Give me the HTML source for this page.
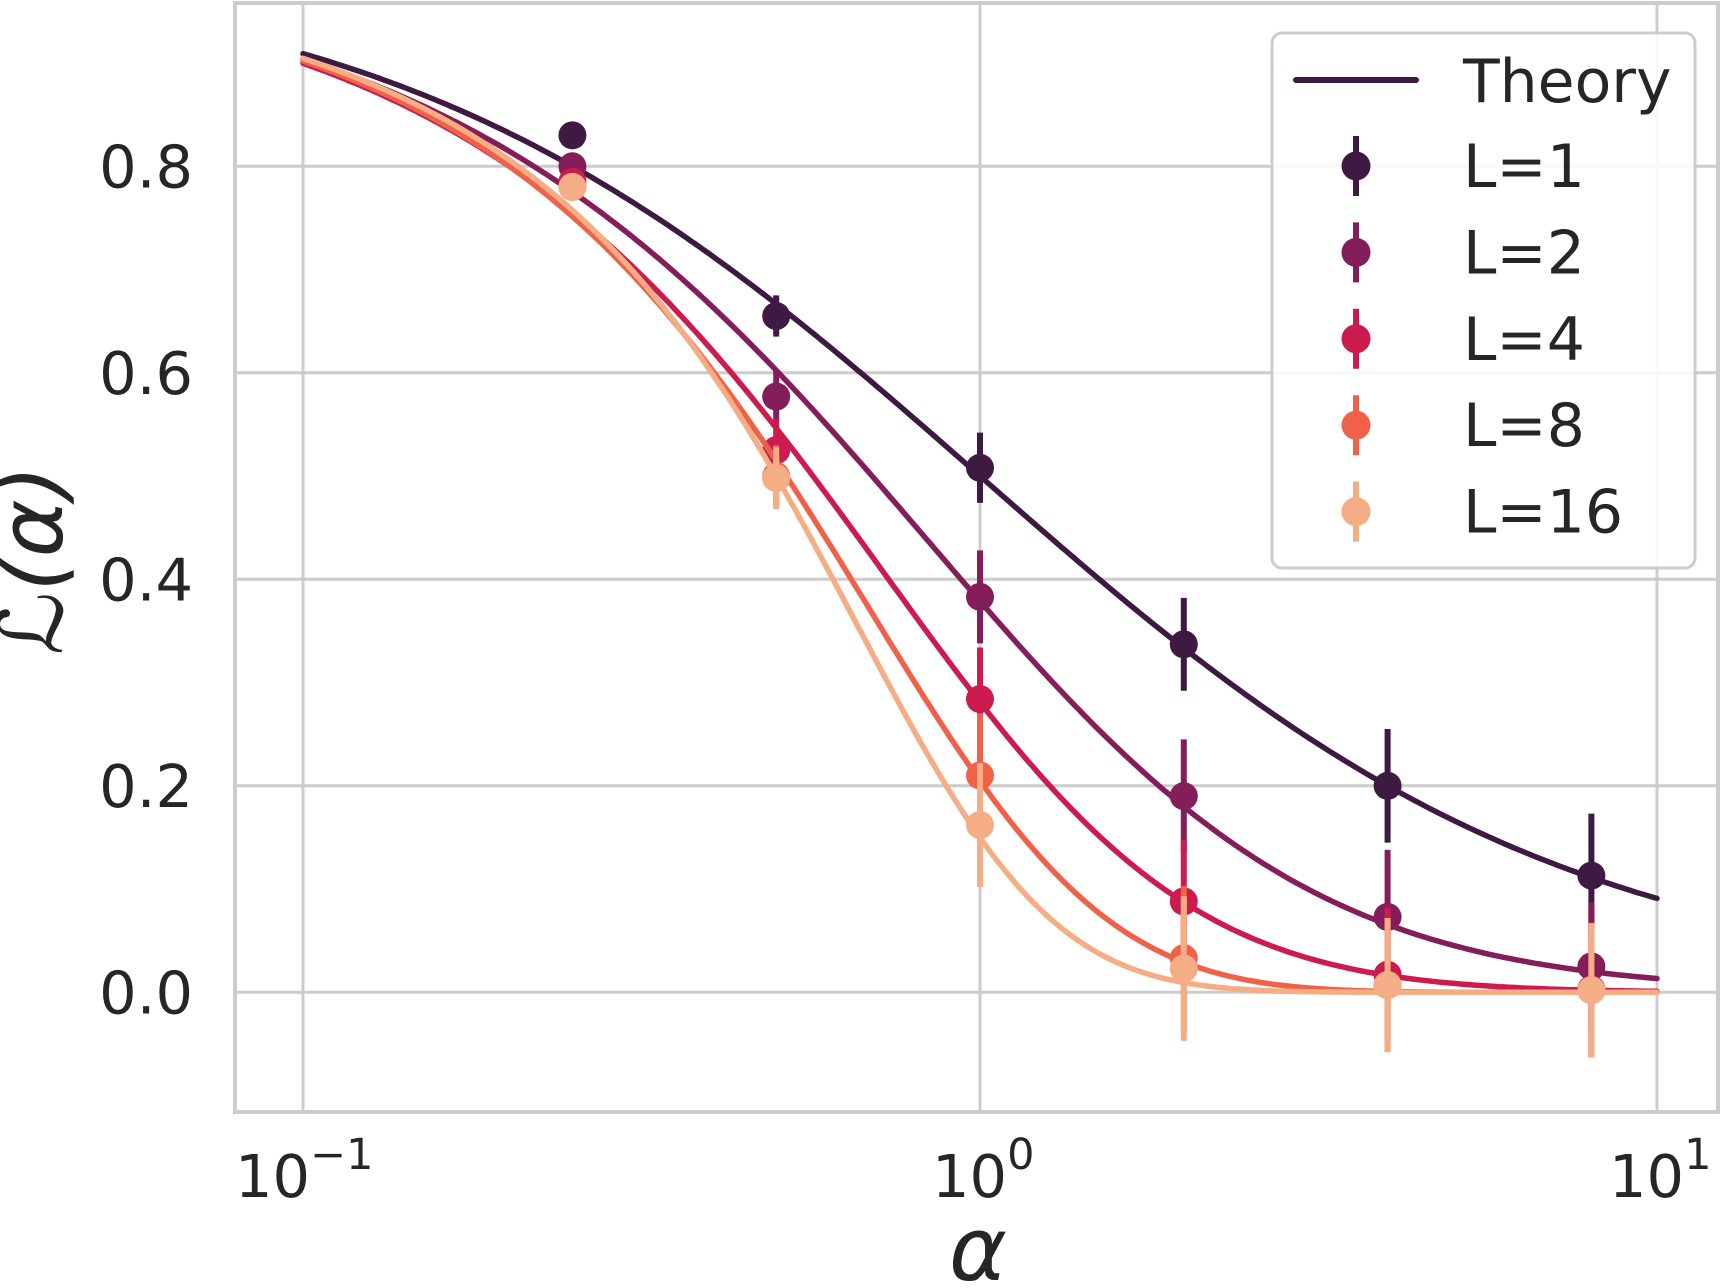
<!DOCTYPE html>
<html><head><meta charset="utf-8"><style>
html,body{margin:0;padding:0;background:#fff;}
svg{display:block;font-family:"DejaVu Sans","Liberation Sans",sans-serif;}
</style></head><body>
<svg id="s" width="1726" height="1288" viewBox="0 0 1726 1288" xmlns="http://www.w3.org/2000/svg">
<rect width="1726" height="1288" fill="#fff"/>
<g id="grid" stroke="#cccccc" stroke-width="3"></g>
<rect x="235" y="3" width="1483" height="1109" fill="none" stroke="#cccccc" stroke-width="4"/>
<g id="plot"></g>
<g id="labels" fill="#262626" font-size="59"></g>
<text x="978" y="1280" font-size="88" font-style="italic" text-anchor="middle" fill="#262626">α</text>
<text transform="translate(62,560) rotate(-90)" font-size="88" font-style="italic" text-anchor="middle" fill="#262626">ℒ(α)</text>
<g id="legend"></g>
</svg>
<script>
var NS="http://www.w3.org/2000/svg";
function el(p,t,a,txt){var e=document.createElementNS(NS,t);for(var k in a)e.setAttribute(k,a[k]);if(txt!==undefined)e.textContent=txt;p.appendChild(e);return e;}
function X(a){return 980+677*Math.log10(a);}
function Y(v){return 992.3-1032.5*v;}
var g=document.getElementById('grid');
[303,980,1657].forEach(function(x){el(g,'line',{x1:x,x2:x,y1:3,y2:1112});});
[0,0.2,0.4,0.6,0.8].forEach(function(v){el(g,'line',{x1:235,x2:1718,y1:Y(v),y2:Y(v)});});
var lb=document.getElementById('labels');
[0,0.2,0.4,0.6,0.8].forEach(function(v){el(lb,'text',{x:193,y:Y(v)+21,'text-anchor':'end'},v.toFixed(1));});
[[-1,303],[0,980],[1,1657]].forEach(function(p){
  var t=el(lb,'text',{x:p[1]-48+(p[0]<0?-20:0),y:1197});
  el(t,'tspan',{},'10');
  el(t,'tspan',{dy:-28,'font-size':43},p[0]<0?'−1':String(p[0]));
});
var fns={
1:function(a){return 1/(1+a);},
2:function(a){return 1/(1+a*(1+0.64*a));},
4:function(a){return 1/(1+a*Math.pow(1+0.368*a,3));},
8:function(a){return 1/(1+a*Math.exp(19.4*a*a/(1+13.3*a)));},
16:function(a){return 1/(1+a*Math.exp(6.94*a*a/(1+3*a)));}
};
var cols={1:'#3e1a42',2:'#841e5a',4:'#cb1b4f',8:'#f0614a',16:'#f5ad85'};
var pts={
1:[[0.25,0.83,0.008],[0.5,0.655,0.02],[1,0.508,0.034],[2,0.337,0.045],[4,0.2,0.055],[8,0.113,0.06]],
2:[[0.25,0.80,0.01],[0.5,0.577,0.025],[1,0.383,0.045],[2,0.19,0.055],[4,0.073,0.065],[8,0.025,0.062]],
4:[[0.25,0.785,0.01],[0.5,0.525,0.03],[1,0.284,0.05],[2,0.088,0.06],[4,0.017,0.065],[8,0.003,0.065]],
8:[[0.25,0.78,0.01],[0.5,0.50,0.03],[1,0.21,0.06],[2,0.033,0.07],[4,0.007,0.065],[8,0.002,0.065]],
16:[[0.25,0.78,0.01],[0.5,0.498,0.03],[1,0.162,0.06],[2,0.023,0.07],[4,0.007,0.065],[8,0.002,0.065]]};
var pl=document.getElementById('plot');
[1,2,4,8,16].forEach(function(L){
  var d='';
  for(var i=0;i<=300;i++){var la=-1+2*i/300,a=Math.pow(10,la);
    var v=Math.max(fns[L](a),0);
    d+=(i?'L':'M')+X(a).toFixed(1)+','+Y(v).toFixed(1);}
  el(pl,'path',{d:d,fill:'none',stroke:cols[L],'stroke-width':5.5,'stroke-linecap':'round','stroke-linejoin':'round'});
  pts[L].forEach(function(p){
    el(pl,'line',{x1:X(p[0]),x2:X(p[0]),y1:Y(p[1]+p[2]),y2:Y(p[1]-p[2]),stroke:cols[L],'stroke-width':6});
    el(pl,'circle',{cx:X(p[0]),cy:Y(p[1]),r:14,fill:cols[L]});
  });
});
var lg=document.getElementById('legend');
el(lg,'rect',{x:1272,y:33,width:423,height:535,rx:10,fill:'#fff','fill-opacity':0.85,stroke:'#cccccc','stroke-width':3});
el(lg,'line',{x1:1296,x2:1416,y1:80,y2:80,stroke:'#3e1a42','stroke-width':6,'stroke-linecap':'round'});
el(lg,'text',{x:1463,y:102,'font-size':60,fill:'#262626'},'Theory');
[1,2,4,8,16].forEach(function(L,i){
  var cy=166+86.4*i;
  el(lg,'line',{x1:1356,x2:1356,y1:cy-30,y2:cy+30,stroke:cols[L],'stroke-width':6});
  el(lg,'circle',{cx:1356,cy:cy,r:14.5,fill:cols[L]});
  el(lg,'text',{x:1463,y:cy+21,'font-size':60,fill:'#262626'},'L='+L);
});
</script>
</body></html>
